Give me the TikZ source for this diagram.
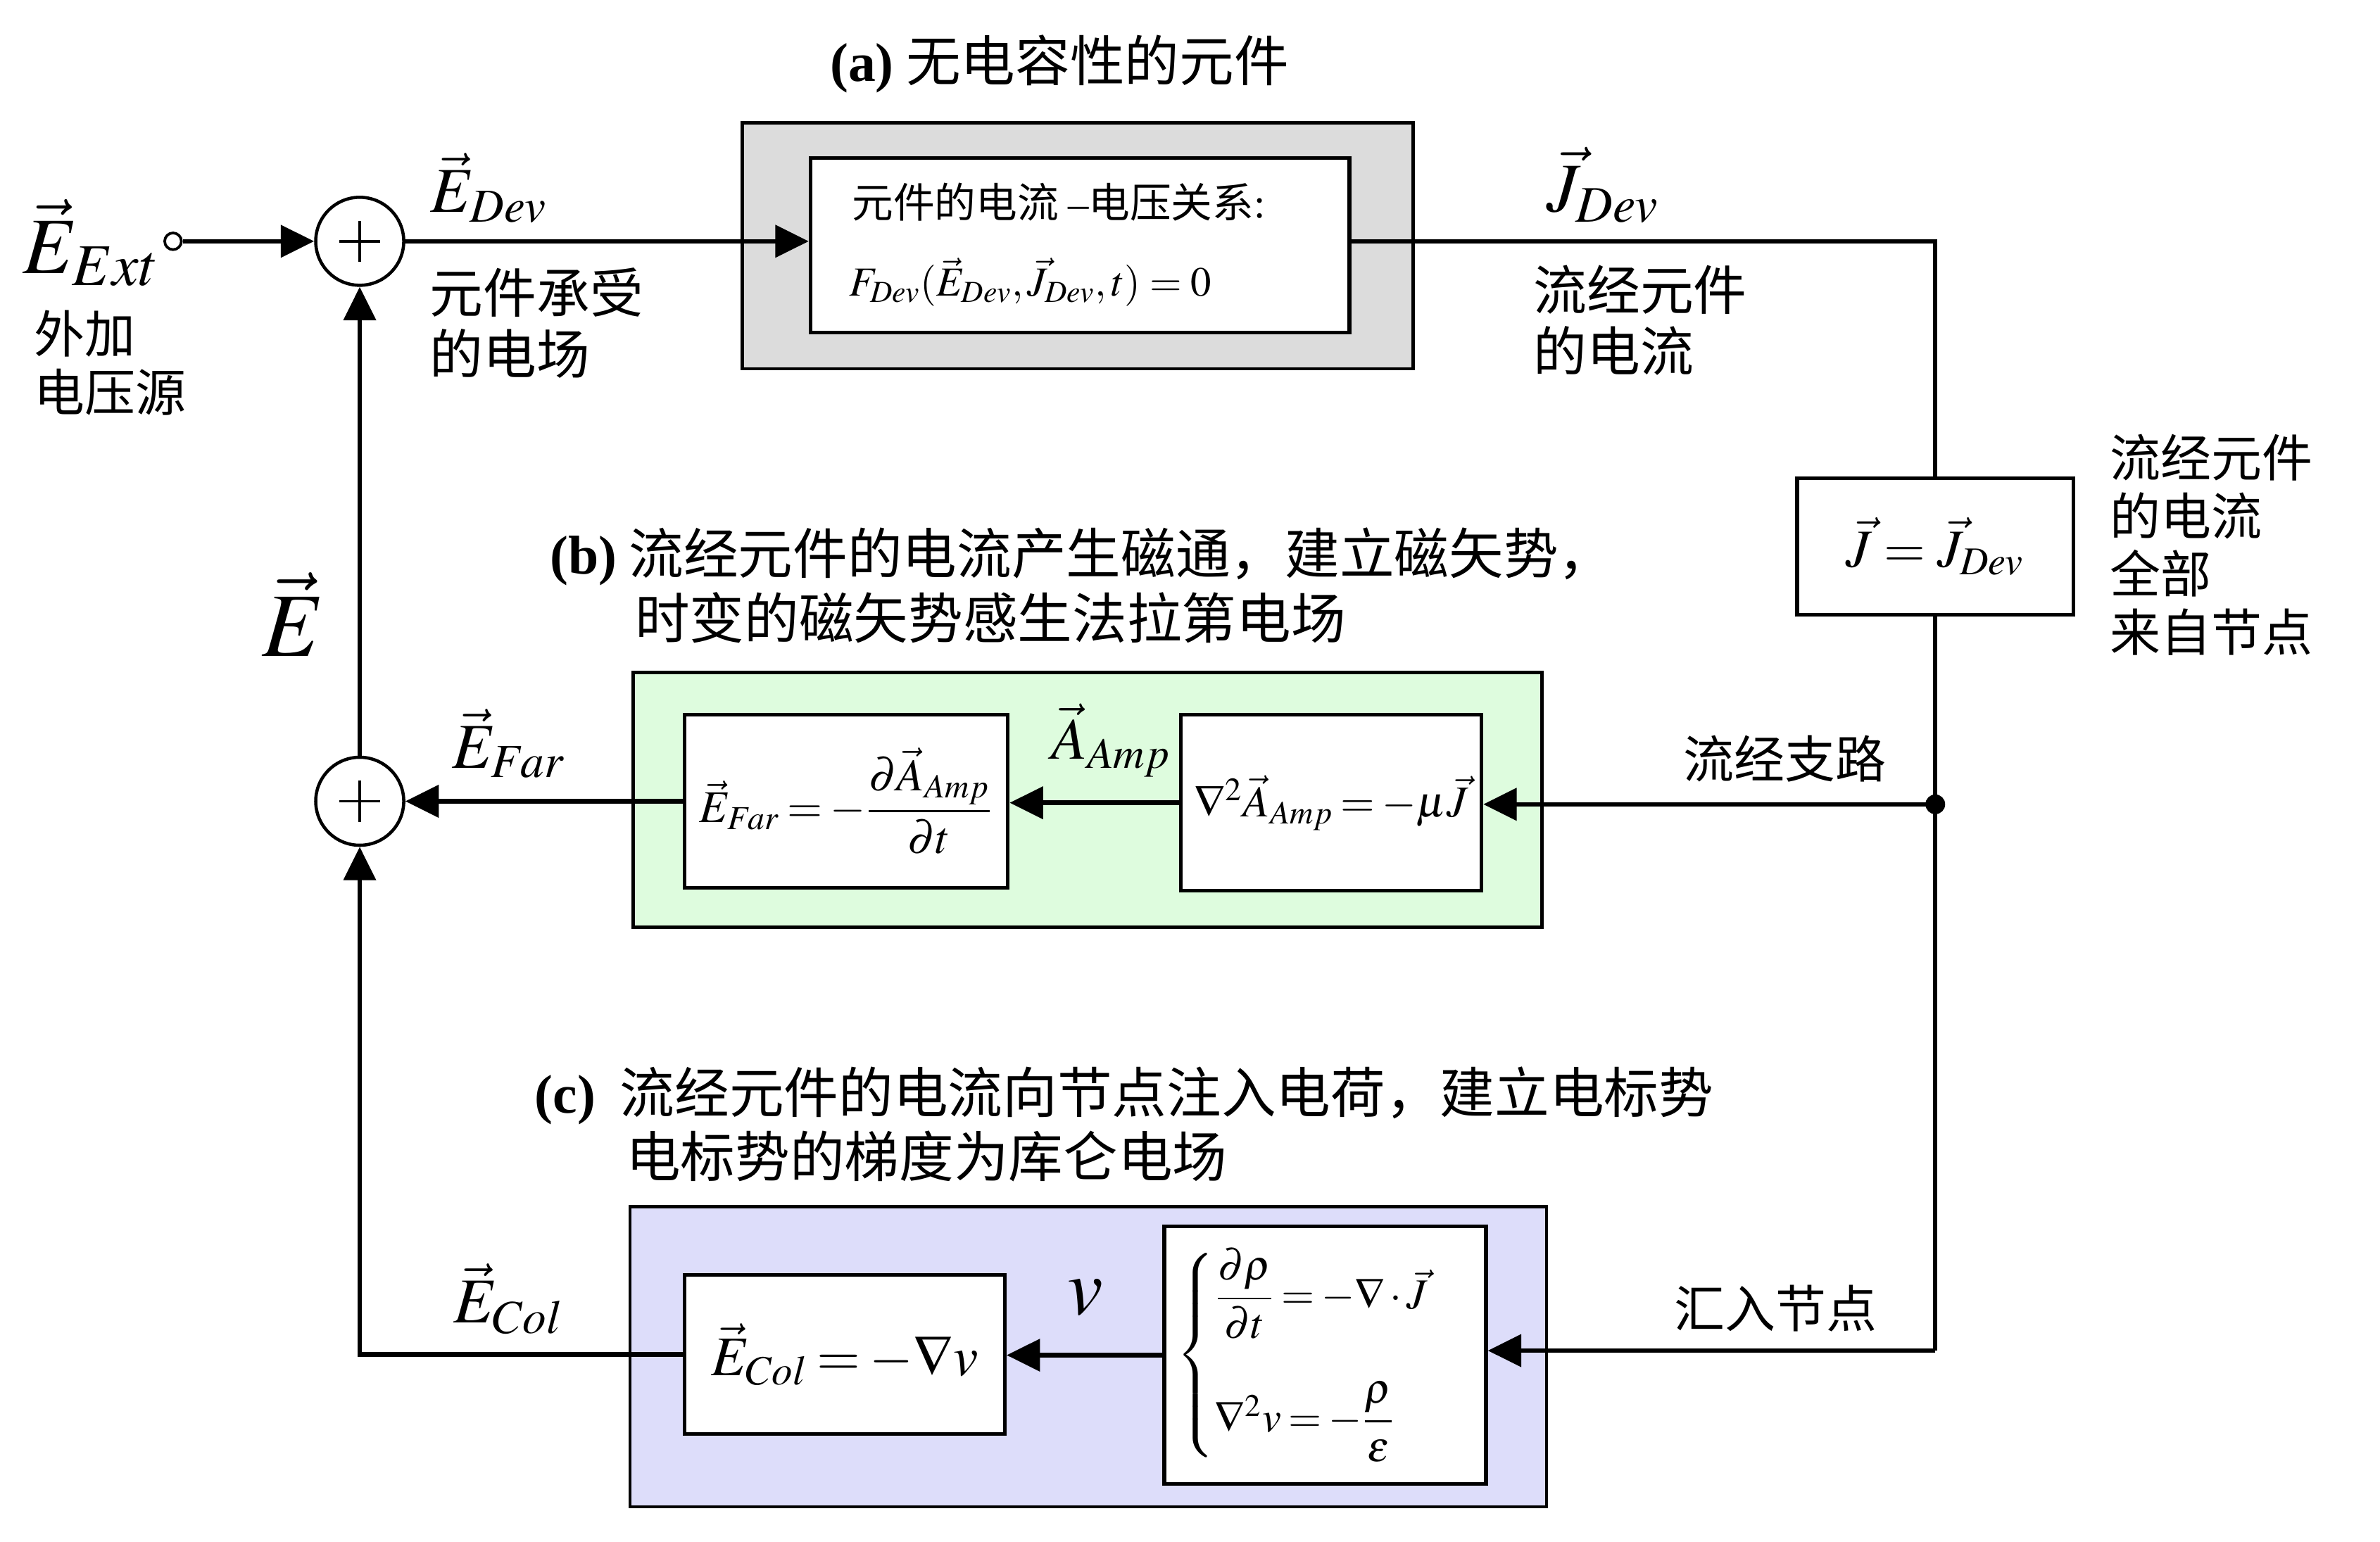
\documentclass[tikz,border=0pt]{standalone}
\usepackage{amsmath}
\usepackage{mathptmx}
\usepackage[no-math]{fontspec}
\setmainfont{Liberation Serif}
\newfontfamily\cjk{Noto Sans CJK SC}
\usetikzlibrary{arrows.meta}
\definecolor{boxgray}{RGB}{220,220,220}
\definecolor{boxgreen}{RGB}{222,252,222}
\definecolor{boxblue}{RGB}{221,221,250}
\newcommand\fsz[1]{\fontsize{#1}{1.15\dimexpr#1pt\relax}\selectfont}
\newcommand\tightmath{\thickmuskip=3mu\medmuskip=2mu}
\begin{document}
\begin{tikzpicture}[x=0.02cm,y=-0.02cm,
  wire/.style={line width=1.7pt},
  arr/.style={line width=1.7pt,-{Triangle[length=0.44cm,width=0.42cm]}},
  blk/.style={draw,line width=1.4pt,fill=white,inner sep=0pt,anchor=center},
  panel/.style={draw,line width=1.2pt,inner sep=0pt},
  sumc/.style={circle,draw,line width=1.2pt,minimum size=1.16cm,inner sep=0pt,fill=white},
  cnA/.style={font=\cjk\fsz{20},inner sep=0pt,align=left},
  cnB/.style={font=\cjk\fsz{19},inner sep=0pt,align=left},
  ttl/.style={inner sep=0pt,font=\cjk\fsz{20.5}},
  lab/.style={inner sep=0pt}
]
\useasboundingbox (0,0) rectangle (1568,1016);

% panels
\node[panel,fill=boxgray,minimum width=8.84cm,minimum height=3.24cm] (pa) at (710,162) {};
\node[panel,fill=boxgreen,minimum width=11.98cm,minimum height=3.36cm] (pb) at (716.5,527) {};
\node[panel,fill=boxblue,minimum width=12.08cm,minimum height=3.96cm] (pc) at (717,894) {};

% blocks
\node[blk,minimum width=7.10cm,minimum height=2.30cm] (ina) at (711.5,161.5) {};
\node[lab,anchor=west,font=\cjk\fsz{15.5}] (atx1) at (561,133) {元件的电流 {\rmfamily –}电压关系{\rmfamily :}};
\node[lab,anchor=west,font=\fsz{15.5}] (atx2) at (559,186) {$F_{Dev}(\vec E_{Dev},\vec J_{Dev},t)=0$};

\node[blk,minimum width=3.64cm,minimum height=1.80cm,font=\fsz{20}] (jb) at (1275,360) {$\vec J=\vec J_{Dev}$};

\node[blk,minimum width=4.26cm,minimum height=2.28cm,font=\fsz{17}] (b1) at (557.5,528) {$\tightmath\vec E_{Far}=-\dfrac{\partial\vec A_{Amp}}{\partial t}$};
\node[blk,minimum width=3.96cm,minimum height=2.32cm,font=\fsz{16.5}] (b2) at (877,529) {$\tightmath\nabla^2\vec A_{Amp}=-\mu\vec J$};

\node[blk,minimum width=4.22cm,minimum height=2.10cm,font=\fsz{21}] (c1) at (556.5,892.5) {$\tightmath\vec E_{Col}=-\nabla v$};
\node[blk,minimum width=4.24cm,minimum height=3.40cm,font=\fsz{16}] (c2) at (873,893) {$\tightmath\begin{cases}\dfrac{\partial\rho}{\partial t}=-\nabla\cdot\vec J\\[1.3em]\nabla^2 v=-\dfrac{\rho}{\varepsilon}\end{cases}$};

% summing junctions
\node[sumc] (s1) at (237,159) {};
\node[sumc] (s2) at (237,528) {};
\foreach \s in {s1,s2}{
  \draw[line width=1pt] ([xshift=-0.27cm]\s.center) -- ([xshift=0.27cm]\s.center);
  \draw[line width=1pt] ([yshift=-0.27cm]\s.center) -- ([yshift=0.27cm]\s.center);
}

% terminal and node dot
\node[circle,draw,line width=1pt,minimum size=0.22cm,inner sep=0pt,fill=white] (term) at (114,159) {};
\node[circle,fill=black,minimum size=0.26cm,inner sep=0pt] (dot) at (1275,530) {};
\coordinate (corner) at (1275,890);

% connectors
\draw[arr] (term.east) -- (s1.west);
\draw[arr] (s1.east) -- (s1.east -| ina.west);
\draw[wire] (s1.east -| ina.east) -| (jb.north);
\draw[wire] (jb.south) -- (dot.center) -- (corner);
\draw[arr] (dot.center) -- (dot.center -| b2.east);
\draw[arr] (corner) -- (corner -| c2.east);
\draw[arr] (b2.west) -- (b2.west -| b1.east);
\draw[arr] (b1.west) -- (b1.west -| s2.east);
\draw[arr] (c2.west) -- (c2.west -| c1.east);
\draw[arr] (c1.west) -| (s2.south);
\draw[arr] (s2.north) -- (s1.south);

% math labels
\node[lab,font=\fsz{30}] (lext) at (60,160) {$\vec E_{Ext}$};
\node[lab,font=\fsz{24}] (ldev) at (322,124) {$\vec E_{Dev}$};
\node[lab,font=\fsz{26}] (ljdev) at (1056,122) {$\vec J_{Dev}$};
\node[lab,font=\fsz{34}] (lbigE) at (193,405) {$\vec E$};
\node[lab,font=\fsz{24}] (lfar) at (335,490) {$\vec E_{Far}$};
\node[lab,font=\fsz{22}] (lamp) at (732,488) {$\vec A_{Amp}$};
\node[lab,font=\fsz{24}] (lcol) at (335,856) {$\vec E_{Col}$};
\node[lab,font=\fsz{30}] (lv) at (715,855) {$v$};

% chinese labels
\node[cnB,anchor=west] (lsrc) at (22,239) {外加\\电压源};
\node[cnA,anchor=west] (lfield) at (283,213) {元件承受\\的电场};
\node[cnA,anchor=west] (lcur) at (1010,211) {流经元件\\的电流};
\node[cnB,anchor=west] (lall) at (1390,359) {流经元件\\的电流\\全部\\来自节点};
\node[cnB] (lbranch) at (1176,500) {流经支路};
\node[cnB] (linto) at (1170,862) {汇入节点};

% titles
\node[ttl] (ta) at (698,42) {{\rmfamily\bfseries (a)} 无电容性的元件};
\node[ttl,anchor=west] (tb1) at (362,367) {{\rmfamily\bfseries (b)} 流经元件的电流产生磁通，建立磁矢势，};
\node[ttl,anchor=west] (tb2) at (418,407) {时变的磁矢势感生法拉第电场};
\node[ttl,anchor=west] (tc1) at (352,722) {{\rmfamily\bfseries (c)}\ \ 流经元件的电流向节点注入电荷，建立电标势};
\node[ttl,anchor=west] (tc2) at (412,762) {电标势的梯度为库仑电场};
\end{tikzpicture}
\end{document}
